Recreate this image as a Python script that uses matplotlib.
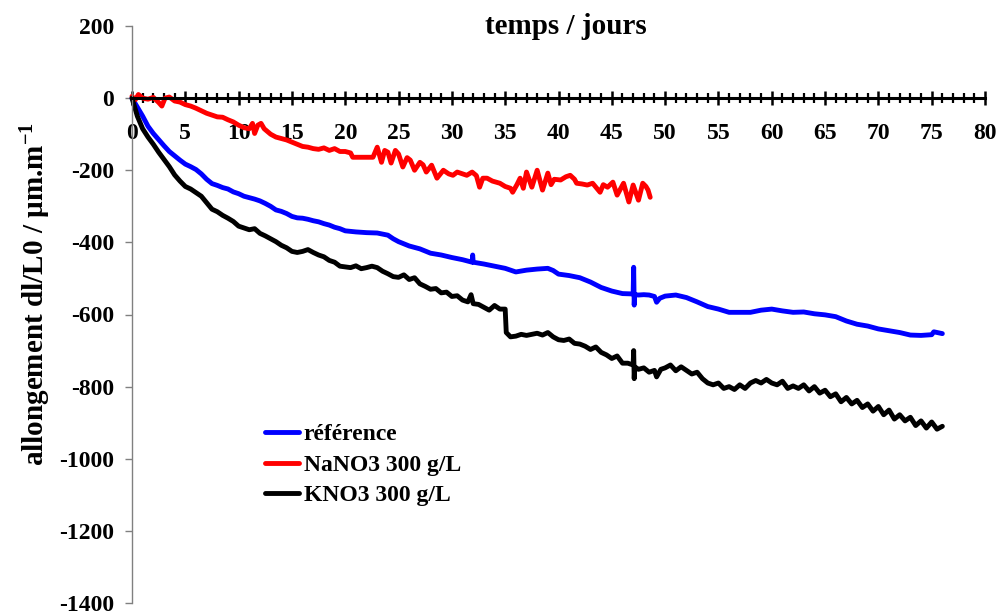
import matplotlib
matplotlib.use("Agg")
import matplotlib.pyplot as plt
from matplotlib.ticker import MultipleLocator

plt.rcParams['font.family'] = ['Liberation Serif', 'DejaVu Serif']
plt.rcParams['font.weight'] = 'bold'
plt.rcParams['axes.unicode_minus'] = False
plt.rcParams['mathtext.fontset'] = 'custom'
plt.rcParams['mathtext.rm'] = 'Liberation Serif:bold'
plt.rcParams['mathtext.it'] = 'Liberation Serif:bold'
plt.rcParams['mathtext.bf'] = 'Liberation Serif:bold'
plt.rcParams['mathtext.default'] = 'rm'

# ---- data (time in days, elongation in µm/m) ----
ref_x = [0, 0.5, 1, 1.5, 2, 2.5, 3, 3.5, 4, 4.5, 5, 5.5, 6, 6.5, 7, 7.5, 8, 8.5, 9, 9.5,
         10, 10.5, 11, 11.5, 12, 12.5, 13, 13.5, 14, 14.5, 15, 15.5, 16, 16.5, 17, 17.5,
         18, 18.5, 19, 19.5, 20, 21, 22, 23, 24, 24.5, 25, 26, 27, 28, 29, 30, 31, 31.9,
         31.95, 32, 33, 34, 35, 36, 37, 38, 39, 39.5, 40, 41, 42, 43, 44, 45, 46, 47,
         47.05, 47.1, 47.15, 47.5, 48, 48.5, 49, 49.2, 49.5, 50, 51, 52, 53, 54, 55, 56,
         57, 58, 59, 60, 61, 62, 63, 64, 65, 66, 67, 68, 69, 70, 71, 72, 73, 74, 75, 75.2, 76]
ref_y = [0, -25, -50, -78, -98, -115, -132, -148, -160, -172, -183, -190, -198, -210, -225,
         -237, -242, -248, -252, -260, -265, -272, -276, -280, -285, -292, -300, -310, -314,
         -320, -328, -332, -333, -336, -340, -343, -348, -352, -358, -362, -368, -371, -373,
         -374, -380, -390, -398, -410, -418, -430, -435, -442, -448, -455, -435, -455, -460,
         -466, -472, -482, -477, -474, -472, -478, -488, -492, -498, -510, -525, -535, -542,
         -543, -469, -574, -545, -546, -545, -546, -550, -566, -555, -549, -546, -553, -565,
         -578, -585, -594, -594, -594, -588, -585, -590, -594, -593, -598, -601, -606, -618,
         -627, -632, -640, -645, -650, -657, -658, -656, -648, -653]

na_x = [0, 0.3, 0.6, 1, 1.5, 2, 2.5, 2.8, 3.1, 3.5, 4, 4.5, 5, 5.5, 6, 6.5, 7, 7.5, 8, 8.5,
        9, 9.5, 10, 10.5, 11, 11.3, 11.5, 11.8, 12.1, 12.4, 13, 13.5, 14, 14.5, 15, 15.5,
        16, 16.5, 17, 17.5, 18, 18.5, 19, 19.5, 20, 20.5, 20.7, 22.6, 23, 23.4, 23.7, 24,
        24.3, 24.7, 25, 25.4, 25.8, 26.1, 26.5, 27, 27.3, 27.6, 28.1, 28.6, 29.2, 29.7,
        30.1, 30.5, 30.8, 31.4, 31.9, 32.3, 32.6, 32.9, 33.3, 33.8, 34.5, 35, 35.5, 35.7,
        36.1, 36.4, 36.7, 37, 37.5, 38, 38.5, 39, 39.3, 39.6, 40.2, 40.7, 41.1, 41.5, 41.7,
        42.2, 42.7, 43.2, 43.9, 44.2, 44.6, 45.1, 45.5, 46.1, 46.6, 47, 47.5, 47.9, 48.2,
        48.4, 48.6]
na_y = [5, -5, 10, 0, -3, 2, -12, -22, 0, 3, -8, -11, -18, -22, -28, -35, -42, -47, -52,
        -53, -60, -66, -75, -82, -85, -70, -98, -75, -70, -85, -100, -108, -112, -116, -122,
        -128, -134, -136, -140, -142, -138, -145, -140, -148, -148, -152, -164, -164, -136,
        -178, -145, -150, -180, -145, -155, -191, -165, -172, -200, -178, -185, -205, -186,
        -222, -200, -210, -214, -205, -208, -214, -205, -215, -247, -222, -222, -230, -236,
        -245, -250, -261, -240, -222, -250, -205, -247, -200, -255, -208, -240, -225, -227,
        -218, -214, -225, -236, -238, -241, -236, -261, -240, -247, -233, -269, -236, -288,
        -241, -283, -236, -245, -255, -275]

k_x = [0, 0.5, 1, 1.5, 2, 2.5, 3, 3.5, 4, 4.5, 5, 5.5, 6, 6.5, 7, 7.5, 8, 8.5, 9, 9.5,
       10, 10.5, 11, 11.5, 12, 12.5, 13, 13.5, 14, 14.5, 15, 15.5, 16, 16.5, 17, 17.5, 18,
       18.5, 19, 19.5, 20, 20.5, 21, 21.5, 22, 22.5, 23, 23.5, 24, 24.5, 25, 25.5, 26, 26.5,
       27, 27.5, 28, 28.5, 29, 29.5, 30, 30.5, 31, 31.5, 31.8, 32, 32.5, 33, 33.5, 34, 34.5,
       35, 35.1, 35.5, 36, 36.5, 37, 37.5, 38, 38.5, 39, 39.5, 40, 40.5, 41, 41.5, 42, 42.5,
       43, 43.5, 44, 44.5, 45, 45.5, 46, 46.5, 47, 47.05, 47.1, 47.15, 47.5, 48, 48.5, 49,
       49.2, 49.6, 50, 50.5, 51, 51.5, 52, 52.5, 53, 53.5, 54, 54.5, 55, 55.5, 56, 56.5, 57,
       57.5, 58, 58.5, 59, 59.5, 60, 60.5, 61, 61.5, 62, 62.5, 63, 63.5, 64, 64.5, 65, 65.5,
       66, 66.5, 67, 67.5, 68, 68.5, 69, 69.5, 70, 70.5, 71, 71.5, 72, 72.5, 73, 73.5, 74,
       74.5, 75, 75.5, 76]
k_y = [0, -50, -85, -108, -128, -150, -170, -190, -213, -230, -245, -252, -262, -272, -290,
       -308, -315, -325, -333, -342, -355, -360, -365, -362, -375, -382, -390, -398, -408,
       -415, -425, -428, -425, -420, -428, -435, -440, -450, -455, -466, -468, -470, -465,
       -473, -470, -466, -470, -480, -487, -495, -497, -490, -503, -498, -515, -522, -530,
       -528, -540, -538, -550, -548, -560, -565, -545, -570, -572, -580, -588, -575, -585,
       -585, -650, -662, -660, -655, -658, -655, -652, -657, -650, -662, -670, -672, -668,
       -680, -682, -688, -697, -690, -705, -712, -722, -715, -735, -735, -740, -700, -778,
       -745, -752, -748, -760, -755, -773, -752, -748, -740, -756, -745, -755, -765, -760,
       -778, -790, -795, -790, -805, -800, -808, -795, -805, -790, -783, -790, -780, -790,
       -795, -785, -805, -798, -805, -795, -812, -800, -818, -810, -828, -820, -842, -830,
       -848, -838, -858, -848, -868, -855, -878, -865, -890, -878, -895, -885, -908, -895,
       -915, -898, -918, -910]

series_labels = ["référence", "NaNO3 300 g/L", "KNO3 300 g/L"]
series_colors = ["#0000FF", "#FF0000", "#000000"]

fig = plt.figure(figsize=(9.96, 6.11), dpi=100)
ax = fig.add_axes([132 / 996, 8 / 611, 853 / 996, 577 / 611])

for (xs, ys), lab, col in zip([(ref_x, ref_y), (na_x, na_y), (k_x, k_y)],
                              series_labels, series_colors):
    ax.plot(xs, ys, color=col, lw=3.5, label=lab, clip_on=False,
            solid_joinstyle='round', solid_capstyle='round')

ax.set_xlim(0, 80)
ax.set_ylim(-1400, 200)

ax.spines['top'].set_visible(False)
ax.spines['right'].set_visible(False)
ax.spines['bottom'].set_position(('data', 0))
ax.spines['bottom'].set_linewidth(2.2)
ax.spines['bottom'].set_color('black')
ax.spines['left'].set_linewidth(1.0)
ax.spines['left'].set_color('#808080')

ax.xaxis.set_major_locator(MultipleLocator(5))
ax.xaxis.set_minor_locator(MultipleLocator(1))
ax.yaxis.set_major_locator(MultipleLocator(200))

ax.tick_params(axis='x', which='major', direction='inout', length=10, width=1.8,
               color='black', pad=13, labelsize=17)
ax.tick_params(axis='x', which='minor', direction='inout', length=7.5, width=1.6,
               color='black')
ax.tick_params(axis='y', which='major', direction='out', length=5, width=1.0,
               color='#808080', pad=8, labelsize=17)
for lbl in ax.get_xticklabels() + ax.get_yticklabels():
    lbl.set_fontweight('bold')

fig.text(566 / 996, 1 - 27 / 611, "temps / jours", ha='center', va='center',
         fontsize=21, fontweight='bold')

fig.text(36 / 996, 1 - 294 / 611, "allongement dl/L0 / µm.m$^{-1}$", rotation=90,
         ha='center', va='center', fontsize=21, fontweight='bold')

leg = ax.legend(loc='upper left', bbox_to_anchor=(253 / 996, 1 - 412 / 611),
                bbox_transform=fig.transFigure, frameon=False, borderpad=0,
                handlelength=1.45, handletextpad=0.2, labelspacing=0.38,
                prop={'weight': 'bold', 'size': 17})

fig.savefig("out.png", dpi=100)
